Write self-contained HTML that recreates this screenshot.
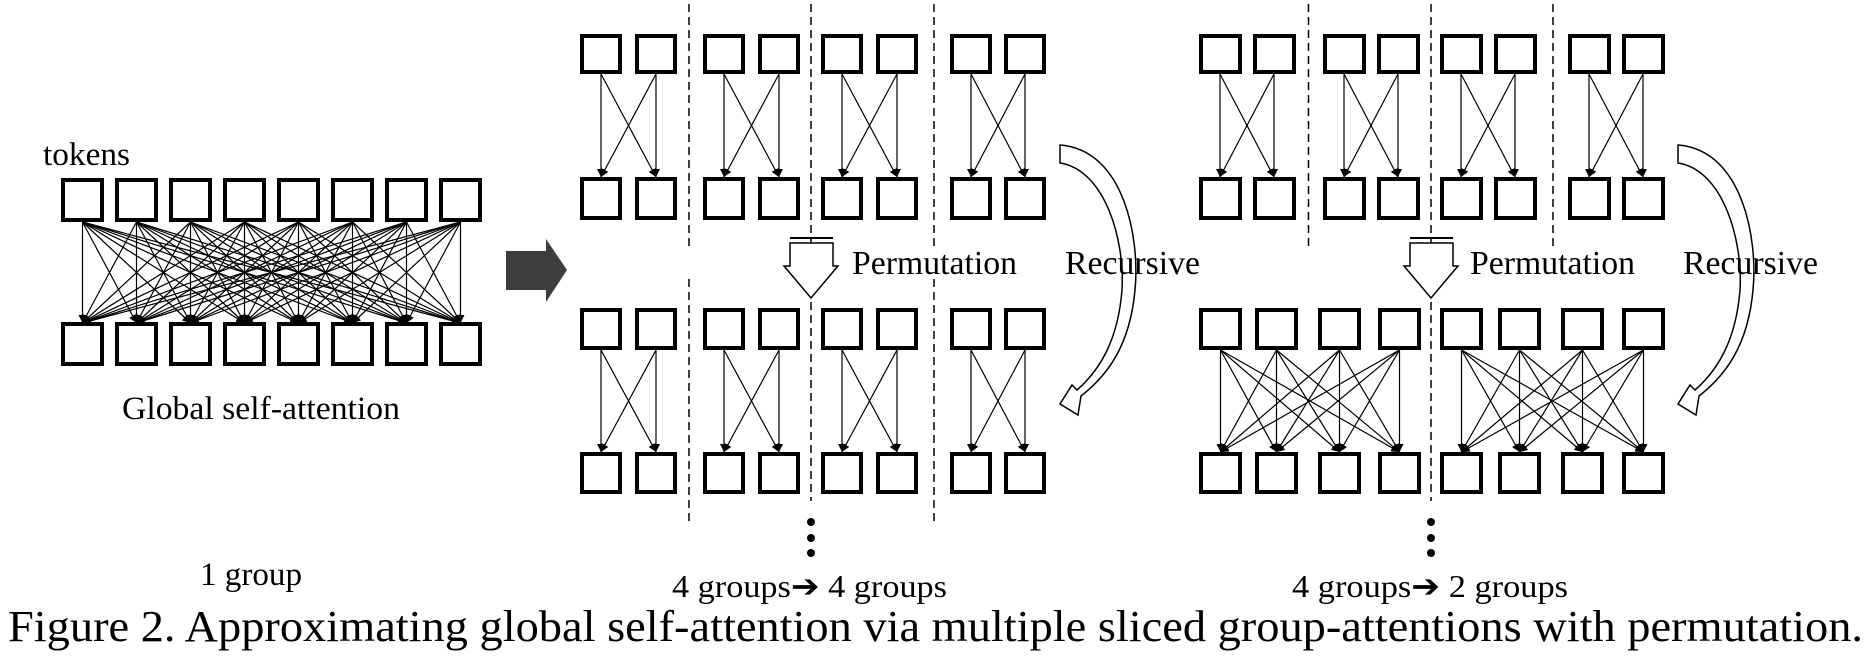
<!DOCTYPE html>
<html><head><meta charset="utf-8"><style>
html,body{margin:0;padding:0;background:#fff;}
svg{display:block;}
text{font-family:"Liberation Serif","Times New Roman",serif;fill:#000;}
</style></head><body>
<svg id="s" width="1875" height="668" viewBox="0 0 1875 668" xmlns="http://www.w3.org/2000/svg">
<defs>
<marker id="ah" viewBox="0 0 10 10" refX="10" refY="5" markerWidth="9" markerHeight="8" markerUnits="userSpaceOnUse" orient="auto">
<path d="M0,0 L10,5 L0,10 Z" fill="#000"/>
</marker>
</defs>
<g id="g"></g>
<polygon points="506,251 546,251 546,239 567,270 546,302 546,290 506,290" fill="#3d3d3d"/>
<circle cx="811" cy="522" r="4"/><circle cx="811" cy="538" r="4"/><circle cx="811" cy="553" r="4"/>
<circle cx="1431" cy="522" r="4"/><circle cx="1431" cy="538" r="4"/><circle cx="1431" cy="553" r="4"/>
<g fill="#fff" stroke="#000" stroke-width="1.5">
<path d="M790,243 L833,243 L833,266 L838,266 L811,298 L784,266 L790,266 Z"/>
<line x1="790" y1="238" x2="833" y2="238" stroke-width="2"/>
<path d="M1410,243 L1453,243 L1453,266 L1458,266 L1431,298 L1404,266 L1410,266 Z"/>
<line x1="1410" y1="238" x2="1453" y2="238" stroke-width="2"/>
</g>
<g fill="#fff" stroke="#000" stroke-width="1.5">
<path d="M1060,145 C1125,150 1140,240 1135,290 C1130,345 1108,375 1081,396 L1078,415 L1060,404 L1072,385 L1077,390 C1100,370 1118,340 1122,290 C1125,240 1105,170 1060,163 Z"/>
<path transform="translate(618,0)" d="M1060,145 C1125,150 1140,240 1135,290 C1130,345 1108,375 1081,396 L1078,415 L1060,404 L1072,385 L1077,390 C1100,370 1118,340 1122,290 C1125,240 1105,170 1060,163 Z"/>
</g>
<text x="43" y="165" font-size="33" textLength="87" lengthAdjust="spacingAndGlyphs">tokens</text>
<text x="122" y="419" font-size="33" textLength="278" lengthAdjust="spacingAndGlyphs">Global self-attention</text>
<text x="200" y="585" font-size="33" textLength="102" lengthAdjust="spacingAndGlyphs">1 group</text>
<text x="852" y="274" font-size="34" textLength="165" lengthAdjust="spacingAndGlyphs">Permutation</text>
<text x="1065" y="274" font-size="34" textLength="135" lengthAdjust="spacingAndGlyphs">Recursive</text>
<text x="1470" y="274" font-size="34" textLength="165" lengthAdjust="spacingAndGlyphs">Permutation</text>
<text x="1683" y="274" font-size="34" textLength="135" lengthAdjust="spacingAndGlyphs">Recursive</text>
<text x="672" y="597" font-size="32" textLength="275" lengthAdjust="spacingAndGlyphs">4 groups➔ 4 groups</text>
<text x="1292" y="597" font-size="32" textLength="276" lengthAdjust="spacingAndGlyphs">4 groups➔ 2 groups</text>
<text x="8" y="641" font-size="44" textLength="1855" lengthAdjust="spacingAndGlyphs">Figure 2. Approximating global self-attention via multiple sliced group-attentions with permutation.</text>
</svg>
<script>
(function(){
var NS="http://www.w3.org/2000/svg",g=document.getElementById("g");
function el(n,a){var e=document.createElementNS(NS,n);for(var k in a)e.setAttribute(k,a[k]);g.appendChild(e);return e;}
function box(x,y,w,h){el("rect",{x:x+2,y:y+2,width:w-4,height:h-4,fill:"#fff",stroke:"#000","stroke-width":4});}
function arr(x1,y1,x2,y2){el("line",{x1:x1,y1:y1,x2:x2,y2:y2,stroke:"#000","stroke-width":1.2,"marker-end":"url(#ah)"});}
function dash(x,y1,y2){el("line",{x1:x,y1:y1,x2:x,y2:y2,stroke:"#000","stroke-width":1.5,"stroke-dasharray":"8 5"});}
[689,811,934,1308.5,1431,1553].forEach(function(x){dash(x,4,249);});
dash(689,279,524);dash(934,279,524);dash(811,302,501);dash(1431,302,501);
var L=[];for(var i=0;i<8;i++)L.push(61+54*i);
for(var i=0;i<8;i++)for(var j=0;j<8;j++)arr(L[i]+21.5,222,L[j]+21.5,323);
L.forEach(function(x){box(x,178,43,44);box(x,322,43,44);});
var M=[580,635,703,758,821,876,950,1004],W=42;
function pairs(xs,yt,yb){
 for(var p=0;p<xs.length;p+=2){
  for(var a=0;a<2;a++)for(var b=0;b<2;b++)arr(xs[p+a]+W/2,yt,xs[p+b]+W/2,yb);
 }
}
pairs(M,74,177);pairs(M,350,452);
M.forEach(function(x){box(x,34,W,40);box(x,177,W,43);box(x,308,W,42);box(x,452,W,42);});
var R=[1199,1253,1323,1377,1440,1494,1568,1622],RB=[1199,1255,1318,1378,1440,1498,1561,1622];
pairs(R,74,177);
for(var gI=0;gI<8;gI+=4)for(var a=0;a<4;a++)for(var b=0;b<4;b++)arr(RB[gI+a]+21.5,350,RB[gI+b]+21.5,452);
R.forEach(function(x){box(x,34,43,40);box(x,177,43,43);});
RB.forEach(function(x){box(x,308,43,42);box(x,452,43,42);});
})();
</script>
</body></html>
